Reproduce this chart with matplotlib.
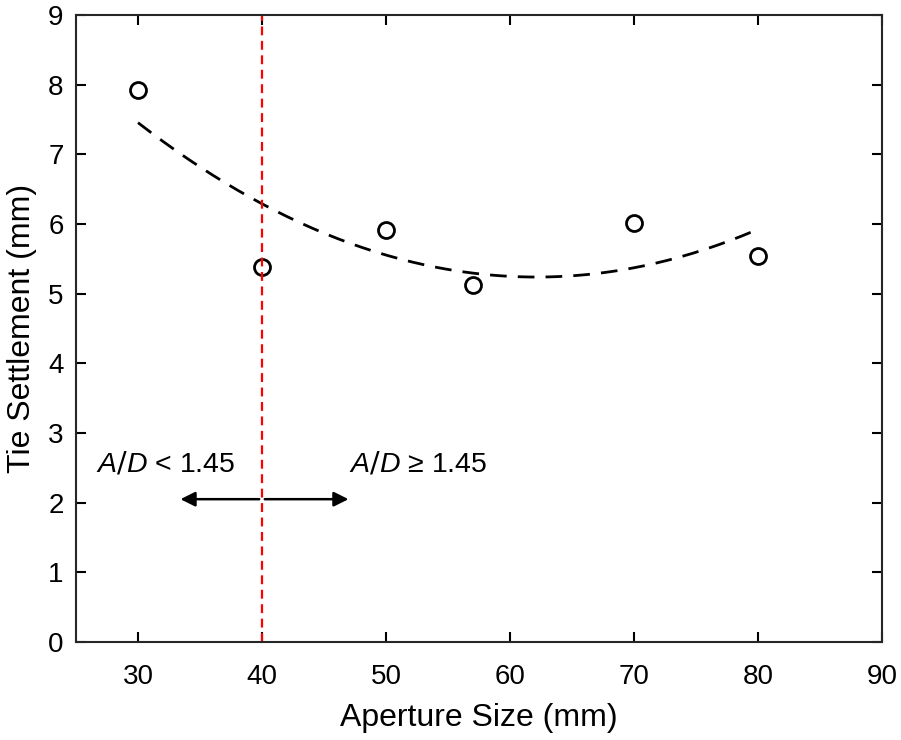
import numpy as np
import matplotlib
matplotlib.use("Agg")
import matplotlib.pyplot as plt

plt.rcParams["font.family"] = ["Liberation Sans", "DejaVu Sans"]
plt.rcParams["mathtext.fontset"] = "custom"
plt.rcParams["mathtext.it"] = "Liberation Sans:italic"

# datos
aperture = [30, 40, 50, 57, 70, 80]
settlement = [7.92, 5.38, 5.91, 5.12, 6.02, 5.54]
x_ticks = [30, 40, 50, 60, 70, 80, 90]
y_ticks = [0, 1, 2, 3, 4, 5, 6, 7, 8, 9]
threshold = 40

# ajuste cuadratico de los puntos
coef = np.polyfit(aperture, settlement, 2)
x_fit = np.linspace(min(aperture), max(aperture), 200)
y_fit = np.polyval(coef, x_fit)

fig = plt.figure(figsize=(9.01, 7.40), dpi=100)
ax = fig.add_axes([76 / 901, 98 / 740, 806 / 901, 627 / 740])

ax.plot(x_fit, y_fit, color="black", linestyle=(0, (6, 4)), linewidth=2)
ax.plot(aperture, settlement, linestyle="none", marker="o", markersize=11.5,
        markerfacecolor="white", markeredgecolor="black", markeredgewidth=2)
ax.axvline(threshold, color="red", linestyle=(0, (4, 2.5)), linewidth=1.6)

# flechas de la zona A/D
ax.annotate("", xy=(33.2, 2.05), xytext=(threshold, 2.05),
            arrowprops=dict(arrowstyle="-|>", color="black", lw=1.8, mutation_scale=22))
ax.annotate("", xy=(47.2, 2.05), xytext=(threshold, 2.05),
            arrowprops=dict(arrowstyle="-|>", color="black", lw=1.8, mutation_scale=22))
ax.text(26.6, 2.55, r"$\mathit{A/D}$ < 1.45", fontsize=20.5, va="center", ha="left")
ax.text(47.0, 2.55, r"$\mathit{A/D}$ ≥ 1.45", fontsize=20.5, va="center", ha="left")

ax.set_xlim(25, 90)
ax.set_ylim(0, 9)
ax.set_xticks(x_ticks)
ax.set_yticks(y_ticks)
ax.tick_params(direction="in", top=True, right=True, length=7, width=1.5,
               labelsize=20)
ax.tick_params(axis="x", pad=16)
ax.tick_params(axis="y", pad=9)
for spine in ax.spines.values():
    spine.set_linewidth(1.5)
    spine.set_color("#262626")

ax.set_xlabel("Aperture Size (mm)", fontsize=23, labelpad=9)
ax.set_ylabel("Tie Settlement (mm)", fontsize=23, labelpad=8)

fig.savefig("out.png", dpi=100)
